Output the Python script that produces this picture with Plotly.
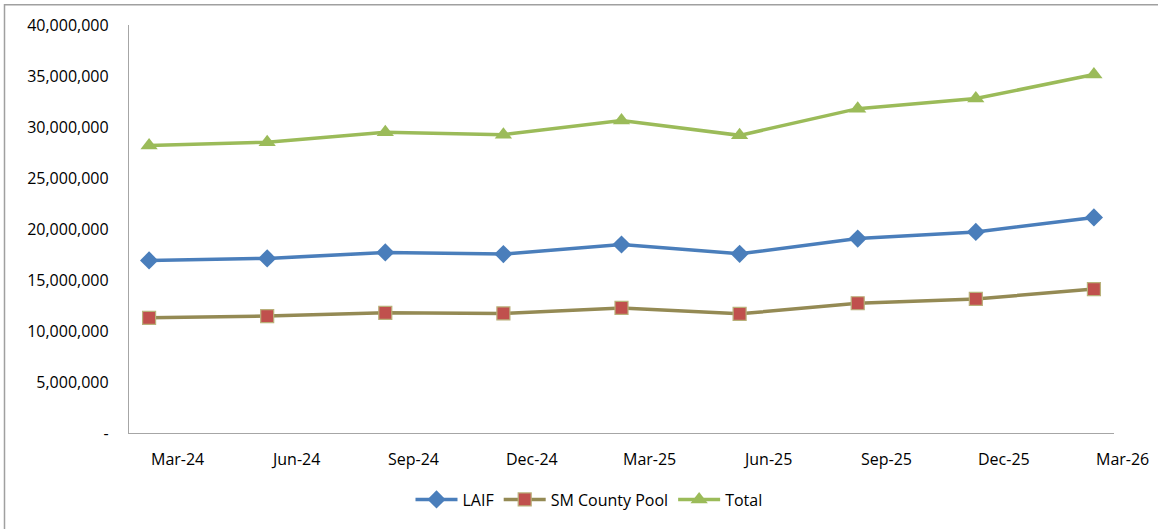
import plotly.graph_objects as go

categories = ["Mar-24", "Jun-24", "Sep-24", "Dec-24", "Mar-25", "Jun-25", "Sep-25", "Dec-25", "Mar-26"]
laif = [16920000, 17120000, 17700000, 17540000, 18480000, 17570000, 19060000, 19710000, 21130000]
sm_pool = [11290000, 11460000, 11780000, 11720000, 12260000, 11680000, 12720000, 13140000, 14110000]
total = [28190000, 28510000, 29480000, 29250000, 30640000, 29180000, 31800000, 32790000, 35150000]
y_tick_vals = [0, 5000000, 10000000, 15000000, 20000000, 25000000, 30000000, 35000000, 40000000]
y_tick_text = ["-", "5,000,000", "10,000,000", "15,000,000", "20,000,000", "25,000,000",
               "30,000,000", "35,000,000", "40,000,000"]

idx = list(range(len(categories)))
font = "Open Sans"
x_lo, x_hi = -0.17, 8.17
label_offset = 0.24

fig = go.Figure()
fig.add_trace(go.Scatter(
    x=idx, y=laif, name="LAIF", mode="lines+markers",
    line=dict(color="#4A7EBB", width=3.5),
    marker=dict(symbol="diamond", size=14, color="#4A7EBB"),
))
fig.add_trace(go.Scatter(
    x=idx, y=sm_pool, name="SM County Pool", mode="lines+markers",
    line=dict(color="#948A54", width=3.5),
    marker=dict(symbol="square", size=13, color="#C0504D", line=dict(color="#B9B07A", width=1.2)),
))
fig.add_trace(go.Scatter(
    x=idx, y=total, name="Total", mode="lines+markers",
    line=dict(color="#9BBB59", width=3.5),
    marker=dict(symbol="triangle-up", size=15, color="#9BBB59"),
))

# category labels (offset to the right of each point, as in the source chart)
annotations = [
    dict(x=(i + label_offset - x_lo) / (x_hi - x_lo), y=0, xref="paper", yref="paper",
         text=c, showarrow=False, yshift=-26, xanchor="center", yanchor="middle",
         font=dict(family=font, size=16, color="#000000"))
    for i, c in zip(idx, categories)
]

fig.update_layout(
    width=1158, height=529,
    margin=dict(l=129, r=44, t=25, b=92),
    paper_bgcolor="white", plot_bgcolor="white",
    font=dict(family=font, size=16, color="#000000"),
    showlegend=True,
    legend=dict(orientation="h", x=0.467, xanchor="center", y=-0.163, yanchor="middle",
                font=dict(family=font, size=16), itemwidth=42, tracegroupgap=0),
    xaxis=dict(
        range=[x_lo, x_hi], showgrid=False, zeroline=False, automargin=False,
        showticklabels=False, ticks="",
        showline=True, linecolor="#A6A6A6", linewidth=1.3,
    ),
    yaxis=dict(
        range=[0, 40000000], showgrid=False, zeroline=False, automargin=False,
        tickmode="array", tickvals=y_tick_vals, ticktext=y_tick_text,
        ticks="outside", ticklen=16, tickcolor="rgba(0,0,0,0)",
        showline=True, linecolor="#A6A6A6", linewidth=1.3,
        tickfont=dict(family=font, size=16),
    ),
    annotations=annotations,
    shapes=[dict(type="rect", xref="paper", yref="paper",
                 x0=(4.5 - 129) / 985, x1=(1200 - 129) / 985,
                 y0=(437 - 600) / 412, y1=(437 - 4.5) / 412,
                 line=dict(color="#A0A0A0", width=1.5), fillcolor="rgba(0,0,0,0)", layer="below")],
)

fig.write_html("out.html", config={"displayModeBar": False},
               post_script="document.body.style.margin='0';document.body.style.overflow='hidden';")
